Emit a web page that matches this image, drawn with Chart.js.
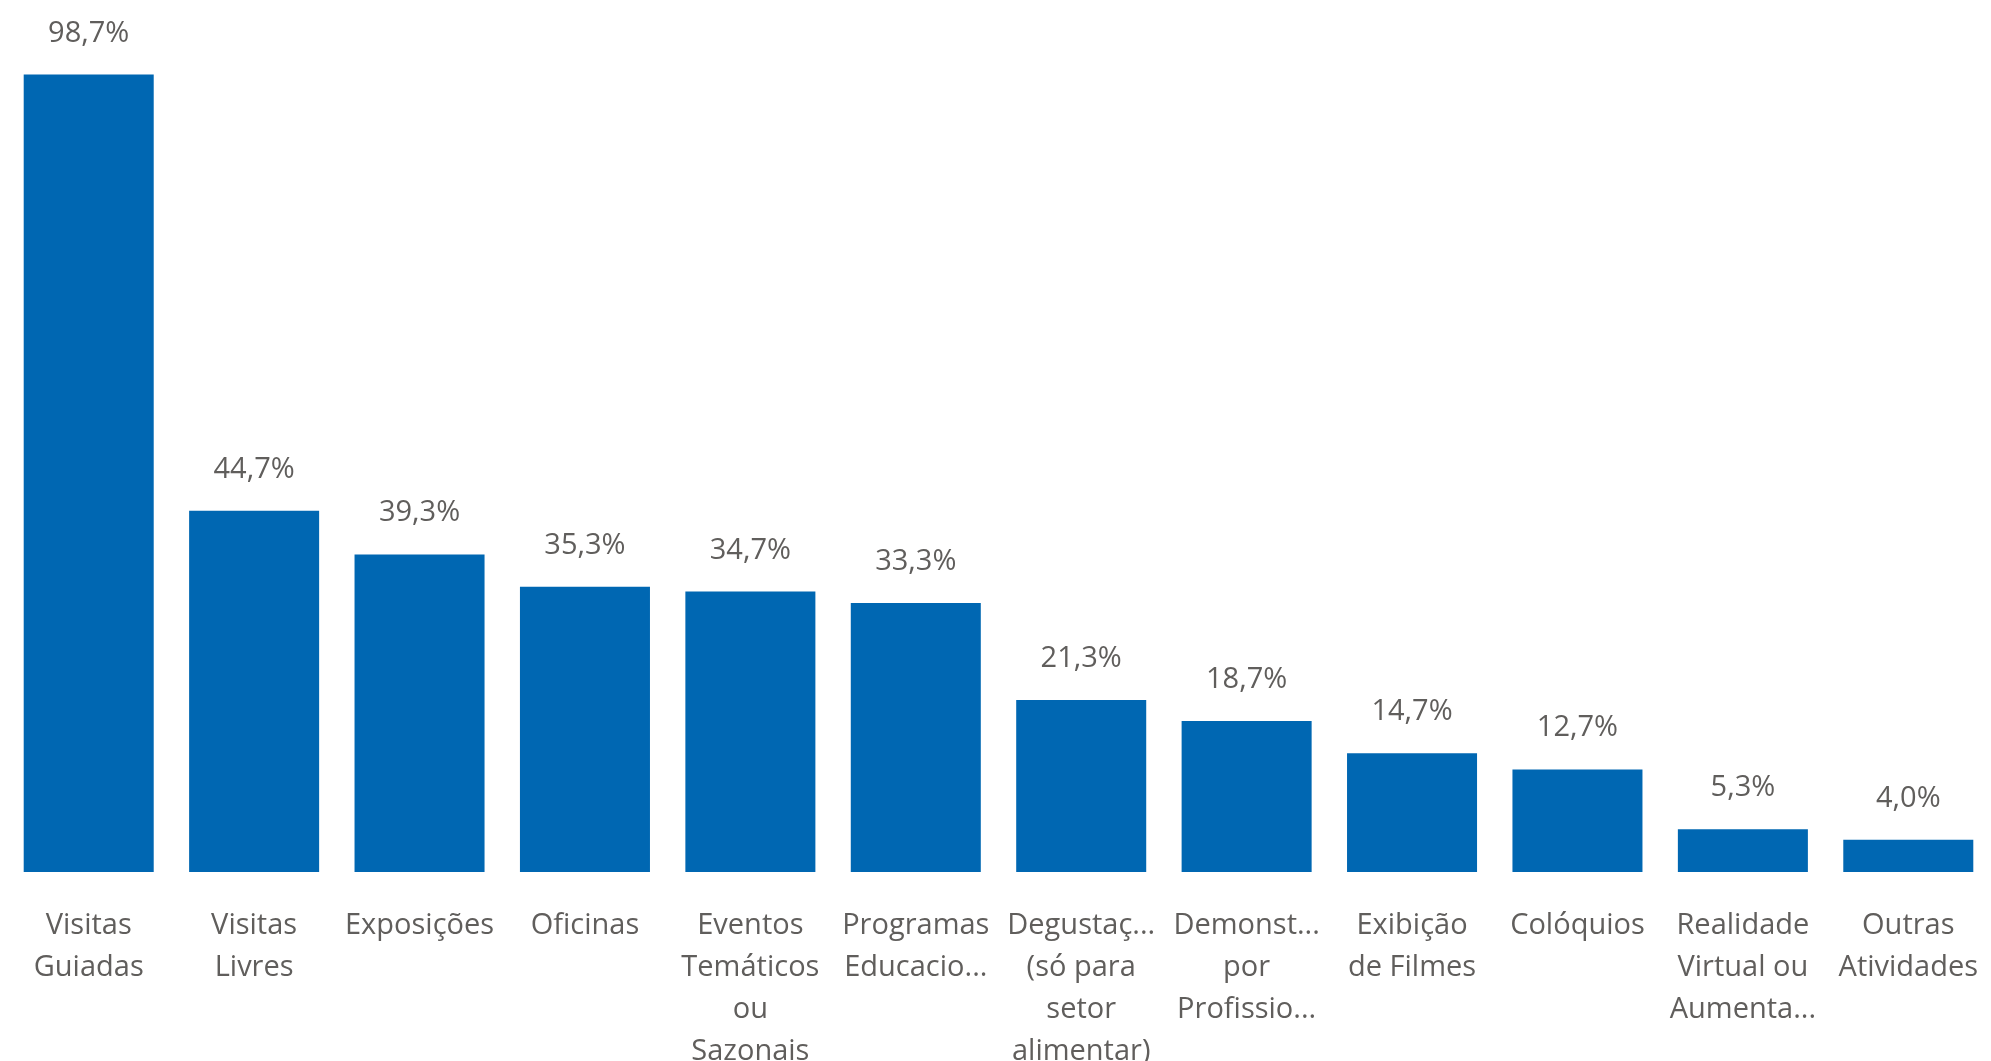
<!DOCTYPE html>
<html>
<head>
<meta charset="utf-8">
<script src="https://cdn.jsdelivr.net/npm/chart.js@4/dist/chart.umd.min.js"></script>
<style>
html,body{margin:0;padding:0;background:#fff;overflow:hidden;}
#wrap{width:1991px;height:1061px;position:relative;}
</style>
</head>
<body>
<div id="wrap"><canvas id="c"></canvas></div>
<script>
const categories = [
  ["Visitas","Guiadas"],
  ["Visitas","Livres"],
  "Exposições",
  "Oficinas",
  ["Eventos","Temáticos","ou","Sazonais"],
  ["Programas","Educacio..."],
  ["Degustaç...","(só para","setor","alimentar)"],
  ["Demonst...","por","Profissio..."],
  ["Exibição","de Filmes"],
  "Colóquios",
  ["Realidade","Virtual ou","Aumenta..."],
  ["Outras","Atividades"]
];
const values = [98.7, 44.7, 39.3, 35.3, 34.7, 33.3, 21.3, 18.7, 14.7, 12.7, 5.3, 4.0];

const FONT = "'Open Sans', 'Noto Sans', sans-serif";
const TEXT = "#605E5C";

const labelPlugin = {
  id: 'valueLabels',
  afterDatasetsDraw(chart) {
    const ctx = chart.ctx;
    const meta = chart.getDatasetMeta(0);
    ctx.save();
    ctx.font = "29px " + FONT;
    ctx.fillStyle = TEXT;
    ctx.textAlign = 'center';
    ctx.textBaseline = 'alphabetic';
    meta.data.forEach((bar, i) => {
      const txt = values[i].toFixed(1).replace('.', ',') + '%';
      ctx.fillText(txt, bar.x, bar.y - 33);
    });
    ctx.restore();
  }
};

new Chart(document.getElementById('c'), {
  type: 'bar',
  data: {
    labels: categories,
    datasets: [{
      data: values,
      backgroundColor: '#0067B2',
      borderWidth: 0,
      barPercentage: 0.786,
      categoryPercentage: 1.0
    }]
  },
  options: {
    responsive: true,
    maintainAspectRatio: false,
    animation: false,
    layout: { padding: { top: 64, left: 6, right: -4, bottom: 0 } },
    plugins: { legend: { display: false }, tooltip: { enabled: false } },
    scales: {
      x: {
        grid: { display: false, drawTicks: false },
        border: { display: false },
        ticks: {
          color: TEXT,
          font: { family: FONT, size: 29, lineHeight: 1.45 },
          padding: 33,
          maxRotation: 0,
          minRotation: 0,
          autoSkip: false
        },
        afterFit(scale) {
          scale.height = 189;
          scale.paddingLeft = 0;
          scale.paddingRight = 0;
        }
      },
      y: {
        display: false,
        min: 0,
        max: 100
      }
    }
  },
  plugins: [labelPlugin]
});
</script>
</body>
</html>
